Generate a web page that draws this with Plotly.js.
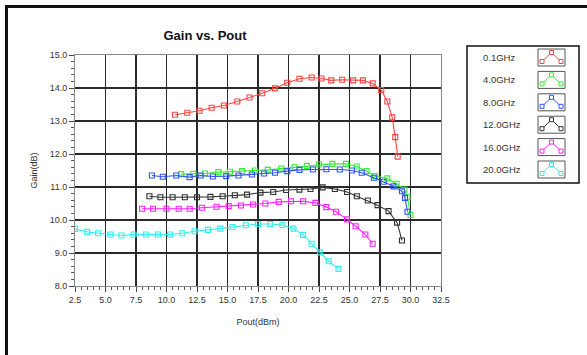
<!DOCTYPE html>
<html>
<head>
<meta charset="utf-8">
<script src="https://cdn.plot.ly/plotly-3.0.1.min.js"></script>
<style>
html,body{margin:0;padding:0;background:#fff;}
#wrap{position:relative;width:587px;height:355px;overflow:hidden;}
#chart{position:absolute;left:0;top:0;width:587px;height:355px;}
#frame{position:absolute;left:5px;top:5px;width:600px;height:400px;border-top:3px solid #111;border-left:3px solid #111;pointer-events:none;}
</style>
</head>
<body>
<div id="wrap"><div id="chart"></div><div id="frame"></div></div>
<script>
// ---- Data ----
const seriesNames = ['0.1GHz', '4.0GHz', '8.0GHz', '12.0GHz', '16.0GHz', '20.0GHz'];
const seriesColors = ['#ff4444', '#33ee33', '#3355ff', '#333333', '#ff22ff', '#33eeee'];

const x_01 = [10.7, 11.7, 12.7, 13.7, 14.7, 15.8, 16.8, 17.85, 18.9, 19.9, 20.9, 21.9, 22.7, 23.5, 24.4, 25.3, 26.1, 26.9, 27.6, 28.1, 28.5, 28.75, 28.95];
const y_01 = [13.19, 13.25, 13.31, 13.40, 13.47, 13.59, 13.71, 13.84, 13.99, 14.16, 14.28, 14.32, 14.29, 14.23, 14.25, 14.23, 14.23, 14.14, 13.94, 13.59, 13.11, 12.51, 11.92];

const x_4 = [11.2, 12.2, 13.15, 14.25, 15.2, 16.2, 17.25, 18.3, 19.4, 20.5, 21.5, 22.5, 23.6, 24.7, 25.6, 26.4, 27.1, 28.1, 28.85, 29.5, 29.75, 30.0];
const y_4 = [11.39, 11.40, 11.41, 11.45, 11.46, 11.48, 11.50, 11.52, 11.56, 11.60, 11.64, 11.68, 11.70, 11.70, 11.62, 11.48, 11.33, 11.26, 11.10, 10.92, 10.69, 10.15];

const x_8 = [8.8, 9.7, 10.8, 11.9, 12.8, 13.8, 14.9, 15.9, 17.0, 18.0, 18.9, 19.9, 20.9, 22.0, 23.1, 24.2, 25.2, 26.0, 27.0, 27.8, 28.6, 29.3, 29.55, 29.75];
const y_8 = [11.35, 11.31, 11.35, 11.30, 11.35, 11.32, 11.33, 11.35, 11.38, 11.41, 11.43, 11.48, 11.52, 11.53, 11.54, 11.53, 11.50, 11.43, 11.28, 11.16, 11.02, 10.87, 10.67, 10.25];

const x_12 = [8.6, 9.5, 10.5, 11.5, 12.5, 13.6, 14.6, 15.6, 16.6, 17.7, 18.75, 19.8, 20.9, 21.8, 22.8, 23.8, 24.8, 25.6, 26.5, 27.3, 28.2, 28.9, 29.3];
const y_12 = [10.72, 10.69, 10.69, 10.69, 10.69, 10.70, 10.72, 10.75, 10.77, 10.83, 10.85, 10.91, 10.92, 10.94, 10.99, 10.94, 10.85, 10.72, 10.59, 10.45, 10.27, 9.92, 9.38];

const x_16 = [8.0, 8.9, 10.0, 11.0, 11.9, 12.9, 14.1, 15.1, 16.1, 17.1, 18.1, 19.2, 20.2, 21.2, 22.2, 23.1, 23.9, 24.8, 25.5, 26.3, 26.9];
const y_16 = [10.34, 10.34, 10.34, 10.34, 10.34, 10.37, 10.40, 10.42, 10.44, 10.47, 10.50, 10.55, 10.57, 10.57, 10.52, 10.39, 10.25, 10.02, 9.81, 9.56, 9.28];

const x_20 = [2.5, 3.5, 4.4, 5.4, 6.3, 7.3, 8.3, 9.3, 10.3, 11.3, 12.3, 13.4, 14.4, 15.4, 16.5, 17.5, 18.5, 19.5, 20.4, 21.2, 21.9, 22.6, 23.3, 24.1];
const y_20 = [9.73, 9.64, 9.60, 9.56, 9.53, 9.56, 9.56, 9.56, 9.56, 9.60, 9.66, 9.70, 9.74, 9.79, 9.84, 9.88, 9.88, 9.85, 9.74, 9.55, 9.28, 9.02, 8.75, 8.52];

const xTickVals = [2.5, 5.0, 7.5, 10.0, 12.5, 15.0, 17.5, 20.0, 22.5, 25.0, 27.5, 30.0, 32.5];
const yTickVals = [8.0, 9.0, 10.0, 11.0, 12.0, 13.0, 14.0, 15.0];

const xs = [x_01, x_4, x_8, x_12, x_16, x_20];
const ys = [y_01, y_4, y_8, y_12, y_16, y_20];

// ---- Traces ----
const traces = seriesNames.map((n, i) => ({
  type: 'scatter', mode: 'lines+markers', name: n,
  x: xs[i], y: ys[i],
  line: {color: seriesColors[i], width: 1.1},
  marker: {symbol: 'square-open', size: 5, color: seriesColors[i], line: {width: 1.1, color: seriesColors[i]}}
}));

// ---- Custom legend (paper coords from pixel positions) ----
const L = 75, R = 441, T = 55, B = 286;
const px2x = p => (p - L) / (R - L);
const py2y = p => (B - p) / (B - T);

const shapes = [];
const annotations = [];
shapes.push({type: 'rect', xref: 'paper', yref: 'paper',
  x0: px2x(467), x1: px2x(579), y0: py2y(46), y1: py2y(183),
  line: {color: '#111', width: 1.5}, fillcolor: 'rgba(0,0,0,0)'});
seriesNames.forEach((n, i) => {
  const cy = 57.5 + i * 22.4;
  annotations.push({xref: 'paper', yref: 'paper', x: px2x(481), y: py2y(cy),
    xanchor: 'left', yanchor: 'middle', showarrow: false, text: n,
    font: {family: 'Liberation Sans, Arial, sans-serif', size: 9.5, color: '#333'}});
  shapes.push({type: 'rect', xref: 'paper', yref: 'paper',
    x0: px2x(538), x1: px2x(565), y0: py2y(cy - 8.5), y1: py2y(cy + 8.5),
    line: {color: '#555', width: 1}, fillcolor: 'white'});
  const c = seriesColors[i];
  const pts = [[540, cy + 6], [551.5, cy - 5], [563, cy + 6]];
  shapes.push({type: 'path', xref: 'paper', yref: 'paper',
    path: 'M' + px2x(pts[0][0]) + ',' + py2y(pts[0][1]) + ' L' + px2x(pts[1][0]) + ',' + py2y(pts[1][1]) + ' L' + px2x(pts[2][0]) + ',' + py2y(pts[2][1]),
    line: {color: c, width: 1}});
  [[542, cy + 4], [551.5, cy - 5], [561, cy + 4]].forEach(p => {
    shapes.push({type: 'rect', xref: 'paper', yref: 'paper',
      x0: px2x(p[0] - 2), x1: px2x(p[0] + 2), y0: py2y(p[1] - 2), y1: py2y(p[1] + 2),
      line: {color: c, width: 1}, fillcolor: 'white'});
  });
});

const axisCommon = {
  showgrid: true, gridcolor: '#2a2a2a', gridwidth: 1.3,
  ticks: 'outside', ticklen: 5, tickcolor: '#444', tickwidth: 1,
  showline: true, linecolor: '#888', linewidth: 1, mirror: true, zeroline: false,
  tickfont: {family: 'Liberation Sans, Arial, sans-serif', size: 9, color: '#333'},
  tickformat: '.1f'
};

const layout = {
  width: 587, height: 355,
  margin: {l: L, r: 587 - R, t: T, b: 355 - B},
  paper_bgcolor: '#fff', plot_bgcolor: '#fff',
  showlegend: false,
  font: {family: 'Liberation Sans, Arial, sans-serif'},
  title: {text: '<b>Gain vs. Pout</b>', x: 205 / 587, xanchor: 'center', y: 1 - 35 / 355, yanchor: 'middle',
    font: {family: 'Liberation Sans, Arial, sans-serif', size: 13, color: '#111'}},
  xaxis: Object.assign({}, axisCommon, {
    range: [2.5, 32.5], tickvals: xTickVals,
    minor: {dtick: 0.5, tick0: 2.5, ticks: 'outside', ticklen: 3, tickcolor: '#555', showgrid: false},
    title: {text: 'Pout(dBm)', standoff: 14, font: {size: 9, color: '#333'}}
  }),
  yaxis: Object.assign({}, axisCommon, {
    range: [8, 15], tickvals: yTickVals,
    minor: {dtick: 0.2, tick0: 8, ticks: 'outside', ticklen: 3, tickcolor: '#555', showgrid: false},
    title: {text: 'Gain(dB)', standoff: 10, font: {size: 9, color: '#333'}}
  }),
  shapes: shapes,
  annotations: annotations
};

Plotly.newPlot('chart', traces, layout, {displayModeBar: false, staticPlot: true});
</script>
</body>
</html>
